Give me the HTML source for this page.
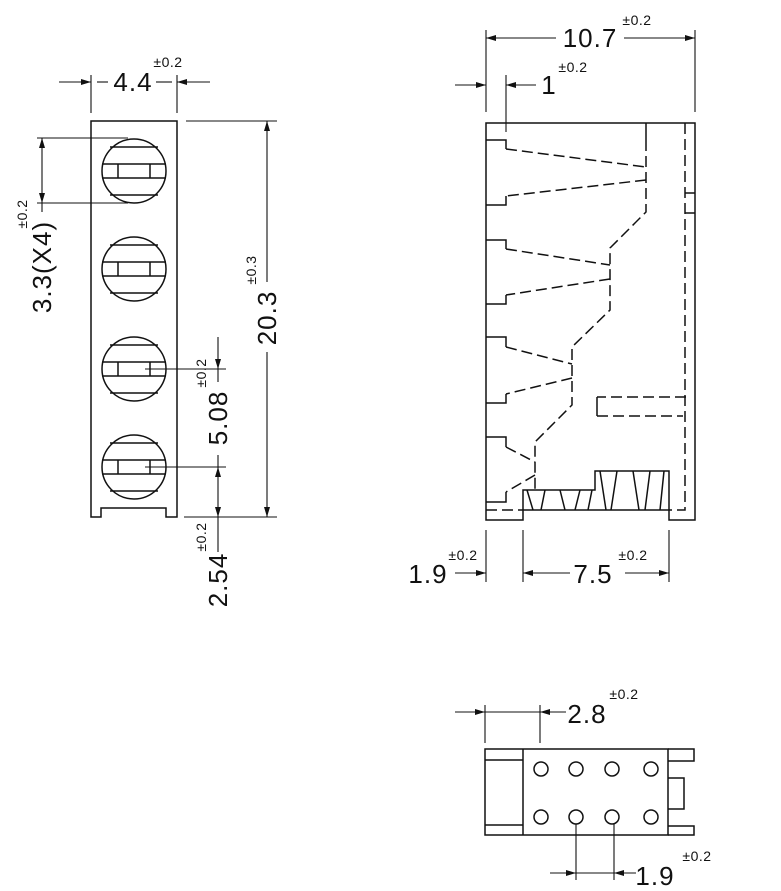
<!DOCTYPE html>
<html><head><meta charset="utf-8"><style>
html,body{margin:0;padding:0;background:#fff;}
svg{display:block;}
text{font-family:"Liberation Sans",sans-serif;fill:#111;}
.b{font-size:26px;letter-spacing:1px;}
.s{font-size:14px;letter-spacing:0.5px;}
</style></head><body>
<svg width="781" height="891" viewBox="0 0 781 891" xmlns="http://www.w3.org/2000/svg">
<defs>
<marker id="a" viewBox="0 0 10 6" refX="10" refY="3" markerWidth="10" markerHeight="6" orient="auto-start-reverse" markerUnits="userSpaceOnUse"><path d="M0,0 L10,3 L0,6 z" fill="#111"/></marker>
</defs>
<g stroke="#111" stroke-width="1.5" fill="none">
<path d="M91,121 H177 V517 H166 V508 H101 V517 H91 Z"/>
<g id="c1">
<circle cx="134" cy="171" r="32"/>
<line x1="110" y1="147" x2="158" y2="147"/>
<line x1="110" y1="195" x2="158" y2="195"/>
<line x1="102" y1="164" x2="166" y2="164"/>
<line x1="102" y1="178" x2="166" y2="178"/>
<line x1="118" y1="164" x2="118" y2="178"/>
<line x1="150" y1="164" x2="150" y2="178"/>
</g>
<use href="#c1" y="98"/>
<use href="#c1" y="198"/>
<use href="#c1" y="296"/>
</g>
<g stroke="#111" stroke-width="1.1" fill="none">
<line x1="91" y1="75" x2="91" y2="113"/><line x1="177" y1="75" x2="177" y2="113"/>
<line x1="59" y1="82" x2="91" y2="82" marker-end="url(#a)"/>
<line x1="210" y1="82" x2="177" y2="82" marker-end="url(#a)"/>
<line x1="97" y1="82" x2="108" y2="82"/><line x1="156" y1="82" x2="172" y2="82"/>
<line x1="37" y1="138" x2="128" y2="138"/><line x1="37" y1="203" x2="128" y2="203"/>
<line x1="42" y1="138" x2="42" y2="203" marker-start="url(#a)" marker-end="url(#a)"/>
<line x1="42" y1="203" x2="42" y2="212"/>
<line x1="186" y1="121" x2="277" y2="121"/><line x1="184" y1="517" x2="277" y2="517"/>
<line x1="267" y1="121" x2="267" y2="282" marker-start="url(#a)"/>
<line x1="267" y1="352" x2="267" y2="517" marker-end="url(#a)"/>
<line x1="145" y1="369" x2="226" y2="369"/><line x1="145" y1="467" x2="226" y2="467"/>
<line x1="218" y1="337" x2="218" y2="369" marker-end="url(#a)"/>
<line x1="218" y1="369" x2="218" y2="382"/>
<line x1="218" y1="455" x2="218" y2="467"/>
<line x1="218" y1="467" x2="218" y2="517" marker-start="url(#a)" marker-end="url(#a)"/>
<line x1="218" y1="517" x2="218" y2="552"/>
</g>
<text class="b" x="133" y="91" text-anchor="middle">4.4</text>
<text class="s" x="168" y="67" text-anchor="middle">±0.2</text>
<text class="b" transform="translate(51,267) rotate(-90)" text-anchor="middle">3.3(X4)</text>
<text class="s" transform="translate(27,214) rotate(-90)" text-anchor="middle">±0.2</text>
<text class="b" transform="translate(276,318) rotate(-90)" text-anchor="middle">20.3</text>
<text class="s" transform="translate(256,270) rotate(-90)" text-anchor="middle">±0.3</text>
<text class="b" transform="translate(227,418) rotate(-90)" text-anchor="middle">5.08</text>
<text class="s" transform="translate(206,373) rotate(-90)" text-anchor="middle">±0.2</text>
<text class="b" transform="translate(227,580) rotate(-90)" text-anchor="middle">2.54</text>
<text class="s" transform="translate(206,537) rotate(-90)" text-anchor="middle">±0.2</text>

<g stroke="#111" stroke-width="1.5" fill="none">
<path d="M486,123 H695 V520 H669 V471 H595 V490 H523 V520 H486 Z"/>
<line x1="523" y1="510" x2="669" y2="510"/>
<line x1="646" y1="123" x2="646" y2="140"/>
<line x1="685" y1="193" x2="695" y2="193"/><line x1="685" y1="213" x2="695" y2="213"/>
<path d="M486,140 H506 V149"/><path d="M486,205 H506 V196"/>
<path d="M486,240 H506 V249"/><path d="M486,304 H506 V295"/>
<path d="M486,337 H506 V347"/><path d="M486,403 H506 V394"/>
<path d="M486,437 H506 V447"/><path d="M486,502 H506 V492"/>
<path d="M597,397 V416"/>
<path d="M527,490 L533,510 M545,490 L541,510 M560,490 L565,510 M580,490 L575,510 M592,490 L588,510"/>
<path d="M600,471 L606,510 M617,471 L611,510 M633,471 L639,510 M650,471 L645,510 M664,471 L660,510"/>
</g>
<g stroke="#111" stroke-width="1.5" fill="none" stroke-dasharray="11,5">
<path d="M646,140 V212 L610,248 V310 L572,347 V405 L535,442 V490"/>
<path d="M685,123 V510 H669"/>
<path d="M506,149 L646,167"/><path d="M646,180 L506,196"/>
<path d="M506,249 L610,265"/><path d="M610,279 L506,295"/>
<path d="M506,347 L572,364"/><path d="M572,378 L506,394"/>
<path d="M506,447 L535,462"/><path d="M535,475 L506,492"/>
<path d="M686,397 H597"/><path d="M597,416 H683"/>
<path d="M486,510 H523"/>
</g>
<g stroke="#111" stroke-width="1.1" fill="none">
<line x1="486" y1="30" x2="486" y2="112"/><line x1="695" y1="30" x2="695" y2="112"/>
<line x1="486" y1="38" x2="556" y2="38" marker-start="url(#a)"/>
<line x1="624" y1="38" x2="695" y2="38" marker-end="url(#a)"/>
<line x1="506" y1="75" x2="506" y2="132"/>
<line x1="455" y1="85" x2="486" y2="85" marker-end="url(#a)"/>
<line x1="536" y1="85" x2="506" y2="85" marker-end="url(#a)"/>
<line x1="486" y1="530" x2="486" y2="582"/><line x1="523" y1="530" x2="523" y2="582"/><line x1="669" y1="530" x2="669" y2="582"/>
<line x1="455" y1="573" x2="486" y2="573" marker-end="url(#a)"/>
<line x1="523" y1="573" x2="570" y2="573" marker-start="url(#a)"/>
<line x1="625" y1="573" x2="669" y2="573" marker-end="url(#a)"/>
</g>
<text class="b" x="590" y="47" text-anchor="middle">10.7</text>
<text class="s" x="637" y="25" text-anchor="middle">±0.2</text>
<text class="b" x="549" y="94" text-anchor="middle">1</text>
<text class="s" x="573" y="72" text-anchor="middle">±0.2</text>
<text class="b" x="428" y="583" text-anchor="middle">1.9</text>
<text class="s" x="463" y="560" text-anchor="middle">±0.2</text>
<text class="b" x="593" y="583" text-anchor="middle">7.5</text>
<text class="s" x="633" y="560" text-anchor="middle">±0.2</text>

<g stroke="#111" stroke-width="1.5" fill="none">
<rect x="485" y="749" width="183" height="86"/>
<line x1="523" y1="749" x2="523" y2="835"/>
<line x1="485" y1="760" x2="523" y2="760"/><line x1="485" y1="825" x2="523" y2="825"/>
<path d="M668,749 H694 V761 H668"/>
<path d="M668,826 H694 V835 H668"/>
<path d="M668,778 H684 V809 H668"/>
<circle cx="541" cy="769" r="7"/><circle cx="576" cy="769" r="7"/><circle cx="612" cy="769" r="7"/><circle cx="651" cy="769" r="7"/>
<circle cx="541" cy="817" r="7"/><circle cx="576" cy="817" r="7"/><circle cx="612" cy="817" r="7"/><circle cx="651" cy="817" r="7"/>
</g>
<g stroke="#111" stroke-width="1.1" fill="none">
<line x1="485" y1="705" x2="485" y2="743"/><line x1="540" y1="705" x2="540" y2="743"/>
<line x1="455" y1="712" x2="485" y2="712" marker-end="url(#a)"/>
<line x1="485" y1="712" x2="540" y2="712"/>
<line x1="566" y1="712" x2="540" y2="712" marker-end="url(#a)"/>
<line x1="576" y1="824" x2="576" y2="880"/><line x1="614" y1="824" x2="614" y2="880"/>
<line x1="550" y1="873" x2="576" y2="873" marker-end="url(#a)"/>
<line x1="576" y1="873" x2="614" y2="873"/>
<line x1="636" y1="873" x2="614" y2="873" marker-end="url(#a)"/>
</g>
<text class="b" x="587" y="723" text-anchor="middle">2.8</text>
<text class="s" x="624" y="699" text-anchor="middle">±0.2</text>
<text class="b" x="655" y="885" text-anchor="middle">1.9</text>
<text class="s" x="697" y="861" text-anchor="middle">±0.2</text>
</svg>
</body></html>
